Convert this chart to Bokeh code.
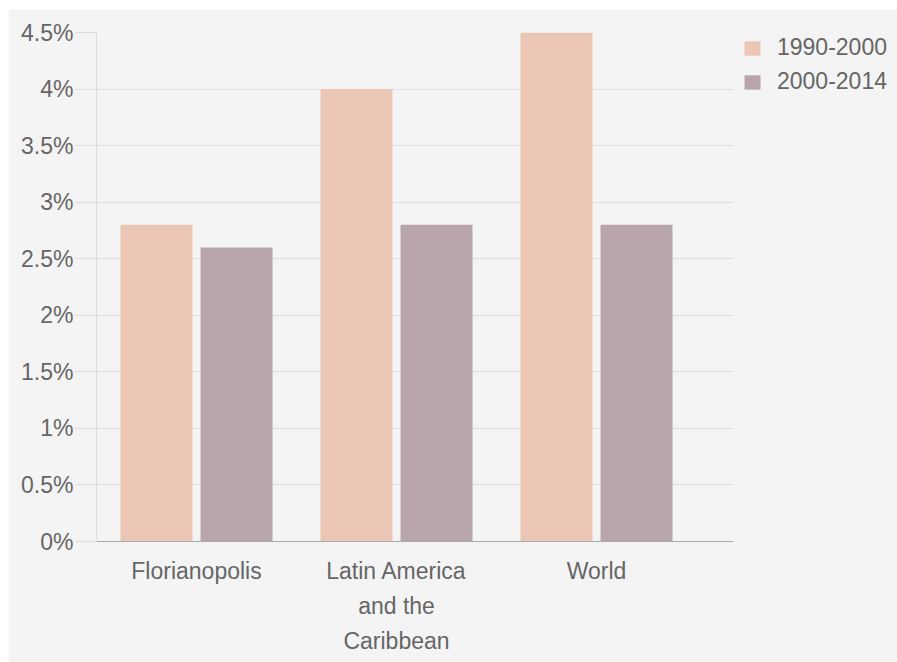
from bokeh.plotting import figure
from bokeh.models import Range1d, FixedTicker, Legend, LegendItem, ColumnDataSource
from bokeh.transform import dodge
from bokeh.embed import file_html
from bokeh.resources import INLINE

categories = ["Florianopolis", "Latin America\nand the\nCaribbean", "World"]
series_names = ["1990-2000", "2000-2014"]
values_1990_2000 = [2.8, 4.0, 4.5]
values_2000_2014 = [2.6, 2.8, 2.8]
y_ticks = [0, 0.5, 1, 1.5, 2, 2.5, 3, 3.5, 4, 4.5]
y_tick_labels = ["0%", "0.5%", "1%", "1.5%", "2%", "2.5%", "3%", "3.5%", "4%", "4.5%"]
colors = ["#ecc6b4", "#b7a5ab"]

x_pos = [i + 0.5 for i in range(len(categories))]
source = ColumnDataSource(dict(x=x_pos, a=values_1990_2000, b=values_2000_2014))

FONT = "Liberation Sans"
TXT = "#666666"
BG = "#f4f4f4"

p = figure(frame_width=637, frame_height=509, x_range=Range1d(0, 3.185), y_range=Range1d(0, 4.5),
           output_backend="svg", toolbar_location=None,
           min_border_left=88, min_border_right=164, min_border_top=23, min_border_bottom=121)
p.margin = (9, 0, 0, 8)
p.background_fill_color = BG
p.border_fill_color = BG
p.outline_line_color = None

r1 = p.vbar(x=dodge("x", -0.2), top="a", width=0.36, source=source, fill_color=colors[0], line_color=None)
r2 = p.vbar(x=dodge("x", 0.2), top="b", width=0.36, source=source, fill_color=colors[1], line_color=None)

# y axis
p.yaxis.ticker = FixedTicker(ticks=y_ticks)
p.yaxis.major_label_overrides = {t: l for t, l in zip(y_ticks, y_tick_labels)}
p.yaxis.axis_line_color = "#dddddd"
p.yaxis.major_tick_line_color = "#dddddd"
p.yaxis.major_tick_out = 21
p.yaxis.major_tick_in = 0
p.yaxis.minor_tick_line_color = None
p.yaxis.major_label_standoff = 2
p.yaxis.major_label_text_font = FONT
p.yaxis.major_label_text_font_size = "23px"
p.yaxis.major_label_text_color = TXT

# x axis
p.xaxis.ticker = FixedTicker(ticks=x_pos)
p.xaxis.major_label_overrides = {x: c for x, c in zip(x_pos, categories)}
p.xaxis.axis_line_color = "#aaaaaa"
p.xaxis.major_tick_line_color = None
p.xaxis.minor_tick_line_color = None
p.xaxis.major_label_standoff = 10
p.xaxis.major_label_text_font = FONT
p.xaxis.major_label_text_font_size = "23px"
p.xaxis.major_label_text_color = TXT
p.xaxis.major_label_text_line_height = 1.35

p.xgrid.grid_line_color = None
p.ygrid.ticker = FixedTicker(ticks=y_ticks)
p.ygrid.grid_line_color = "#dddddd"

legend = Legend(items=[LegendItem(label=series_names[0], renderers=[r1]),
                       LegendItem(label=series_names[1], renderers=[r2])],
                location=(9, 446), orientation="vertical")
legend.margin = 0
legend.padding = 4
legend.spacing = 7
legend.glyph_width = 20
legend.glyph_height = 18
legend.label_standoff = 15
legend.label_text_font = FONT
legend.label_text_font_size = "23px"
legend.label_text_color = TXT
legend.border_line_color = None
legend.background_fill_alpha = 0
p.add_layout(legend, "right")

open("out.html", "w").write(file_html(p, INLINE))
